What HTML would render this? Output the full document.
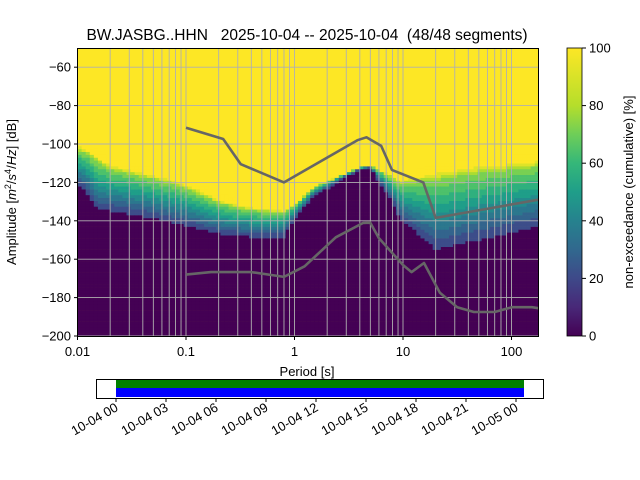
<!DOCTYPE html>
<html><head><meta charset="utf-8"><style>
body{margin:0;background:#fff;}
svg{display:block;font-family:"Liberation Sans","DejaVu Sans",sans-serif;}
</style></head><body>
<svg id="chart" width="640" height="480" viewBox="0 0 640 480">
<text x="307" y="40" font-size="15.5" text-anchor="middle" style="white-space:pre" xml:space="preserve">BW.JASBG..HHN   2025-10-04 -- 2025-10-04  (48/48 segments)</text>
<g id="heat"></g>
<g id="grid"></g>
<g id="models"></g>
<rect x="77.5" y="48.5" width="461" height="288" fill="none" stroke="#000" stroke-width="1"/>
<g id="axes" font-size="13"></g>
<text x="307" y="376" font-size="13" text-anchor="middle">Period [s]</text>
<text transform="translate(16,192) rotate(-90)" font-size="13" text-anchor="middle">Amplitude [<tspan font-style="italic">m</tspan><tspan font-size="9" dy="-5">2</tspan><tspan dy="5">/</tspan><tspan font-style="italic">s</tspan><tspan font-size="9" dy="-5">4</tspan><tspan dy="5">/</tspan><tspan font-style="italic">Hz</tspan>] [dB]</text>
<defs><linearGradient id="vir" x1="0" y1="1" x2="0" y2="0">
<stop offset="0" stop-color="#440154"/><stop offset="0.1" stop-color="#482878"/><stop offset="0.2" stop-color="#3e4989"/><stop offset="0.3" stop-color="#31688e"/><stop offset="0.4" stop-color="#26828e"/><stop offset="0.5" stop-color="#1f9e89"/><stop offset="0.6" stop-color="#35b779"/><stop offset="0.7" stop-color="#6ece58"/><stop offset="0.8" stop-color="#b5de2b"/><stop offset="1" stop-color="#fde725"/></linearGradient></defs>
<rect x="567" y="48" width="15" height="288" fill="url(#vir)" stroke="#000" stroke-width="0.8"/>
<g id="cbar" font-size="13"></g>
<text transform="translate(633,192) rotate(-90)" font-size="13" text-anchor="middle">non-exceedance (cumulative) [%]</text>
<g>
<rect x="96.5" y="379.5" width="447" height="19" fill="#fff" stroke="#000"/>
<rect x="116" y="380" width="408" height="8" fill="#008000"/>
<rect x="116" y="388" width="408" height="9" fill="#0000ff"/>
<rect x="96.5" y="379.5" width="447" height="19" fill="none" stroke="#000"/>
</g>
<g id="tl" font-size="13"></g>
</svg>
<script>
const periodsRead=[0.01,0.012,0.015,0.02,0.05,0.1,0.2,0.3,0.5,0.8,1,1.5,2.5,4,5,6.6,9.5,20,43,180];
const upperDb=[-100,-102,-105,-110,-115,-120,-128,-131,-133,-134,-131,-122,-117,-112,-111,-114,-118,-113,-110,-107];
const lowerDb=[-121,-124,-133,-134,-138,-142,-146,-147,-148,-148,-138,-127,-119,-113,-112,-122,-138,-154,-150,-142];
const nhnmP=[0.1,0.22,0.32,0.8,3.8,4.6,6.3,7.9,15.4,20,177];
const nhnmDb=[-91.5,-97.4,-110.5,-120,-98,-96.5,-101,-113.5,-120,-138.5,-129];
const nlnmP=[0.1,0.17,0.4,0.8,1.24,2.4,4.3,5,6,10,12,15.6,21.9,31.6,45,70,101,154,177];
const nlnmDb=[-168,-166.7,-166.7,-169.2,-163.7,-148.6,-141.1,-141,-149,-163,-166.7,-162,-177.5,-185,-187.5,-187.5,-185,-185,-185.5];
const yTicks=[-60,-80,-100,-120,-140,-160,-180,-200];
const xTickVals=[0.01,0.1,1,10,100];
const xTickLabels=["0.01","0.1","1","10","100"];
const cbTicks=[0,20,40,60,80,100];
const tlLabels=["10-04 00","10-04 03","10-04 06","10-04 09","10-04 12","10-04 15","10-04 18","10-04 21","10-05 00"];
const tlHours=[0,3,6,9,12,15,18,21,24];
const NS='http://www.w3.org/2000/svg';
const X0=77.5,D=108.5,PMAX=177;
const xs=p=>X0+D*(Math.log10(p)+2);
const ys=db=>48+(-50-db)*1.92;
const vir=[[68,1,84],[72,40,120],[62,73,137],[49,104,142],[38,130,142],[31,158,137],[53,183,121],[110,206,88],[181,222,43],[253,231,37],[253,231,37]];
function vcol(f){f=Math.max(0,Math.min(1,f));const t=f*10,i=Math.min(9,Math.floor(t)),r=t-i;const a=vir[i],b=vir[i+1];return 'rgb('+a.map((v,k)=>Math.round(v+(b[k]-v)*r)).join(',')+')';}
function interp(P,V,p){const lp=Math.log10(p);for(let i=0;i<P.length-1;i++){const a=Math.log10(P[i]),b=Math.log10(P[i+1]);if(lp<=b){const r=(lp-a)/(b-a);return V[i]+(V[i+1]-V[i])*Math.max(0,r);}}return V[V.length-1];}
function mk(tag,attrs,parent){const e=document.createElementNS(NS,tag);for(const k in attrs)e.setAttribute(k,attrs[k]);parent.appendChild(e);return e;}
const heat=document.getElementById('heat');
mk('rect',{x:X0,y:48,width:461,height:288,fill:'#fde725'},heat);
const step=Math.pow(2,1/8);
for(let p=0.01;p<PMAX;p*=step){
  const x1=xs(p),x2=Math.min(xs(p*step),538.5);
  const pc=p*Math.sqrt(step);
  const up=interp(periodsRead,upperDb,pc),lo=interp(periodsRead,lowerDb,pc);
  for(let db=-200;db<up+1.5;db+=1.5){
    let lin=Math.max(0,Math.min(1,(db+0.75-lo)/Math.max(1,up-lo)));
    let f;
    if(db+1.5<=lo)f=0;
    else if(lin<0.85)f=0.18+0.55*lin/0.85;
    else f=0.73+0.27*(lin-0.85)/0.15;
    const r=mk('rect',{x:x1.toFixed(2),y:ys(db+1.5).toFixed(2),width:(x2-x1+0.4).toFixed(2),height:(1.5*1.92+0.3).toFixed(2),fill:vcol(Math.round(f*14)/14)},heat);
    
    
  }
}
const grid=document.getElementById('grid');
for(let e=-2;e<=2;e++)for(let m=1;m<=9;m++){const p=m*Math.pow(10,e);if(p<=0.01||p>PMAX)continue;const x=xs(p);
  const l=mk('line',{x1:x,x2:x,y1:48,y2:336,stroke:'#b0b0b0','stroke-width':0.9},grid);
  }
yTicks.forEach(v=>{const y=ys(v);const l=mk('line',{x1:X0,x2:538.5,y1:y,y2:y,stroke:'#b0b0b0','stroke-width':0.9},grid);
  });
const models=document.getElementById('models');
function line(P,V,name){const pts=P.map((p,i)=>xs(p).toFixed(1)+','+ys(V[i]).toFixed(1)).join(' ');
  const l=mk('polyline',{points:pts,fill:'none',stroke:'#666','stroke-width':2.6,'stroke-linejoin':'round'},models);
  }
line(nhnmP,nhnmDb,'nhnm-line');line(nlnmP,nlnmDb,'nlnm-line');
const axes=document.getElementById('axes');
yTicks.forEach(v=>{const y=ys(v);mk('line',{x1:74,x2:77.5,y1:y,y2:y,stroke:'#000'},axes);
  const t=mk('text',{x:71,y:y+4.5,'text-anchor':'end'},axes);t.textContent=String(v).replace('-','\u2212');
  });
xTickVals.forEach((v,i)=>{const x=xs(v);mk('line',{x1:x,x2:x,y1:336,y2:340,stroke:'#000'},axes);
  const t=mk('text',{x:x,y:356,'text-anchor':'middle'},axes);t.textContent=xTickLabels[i];
  });
const cb=document.getElementById('cbar');
cbTicks.forEach(v=>{const y=336-v/100*288;mk('line',{x1:582,x2:586,y1:y,y2:y,stroke:'#000'},cb);
  const t=mk('text',{x:589,y:y+4.5},cb);t.textContent=v;
  });
const tl=document.getElementById('tl');
tlHours.forEach((h,i)=>{const x=116+h/24*400;mk('line',{x1:x,x2:x,y1:398,y2:402,stroke:'#000'},tl);
  const t=mk('text',{x:0,y:0,'text-anchor':'end',transform:'translate('+(x+3)+',410) rotate(-30)'},tl);t.textContent=tlLabels[i];
  });
</script>
</body></html>
